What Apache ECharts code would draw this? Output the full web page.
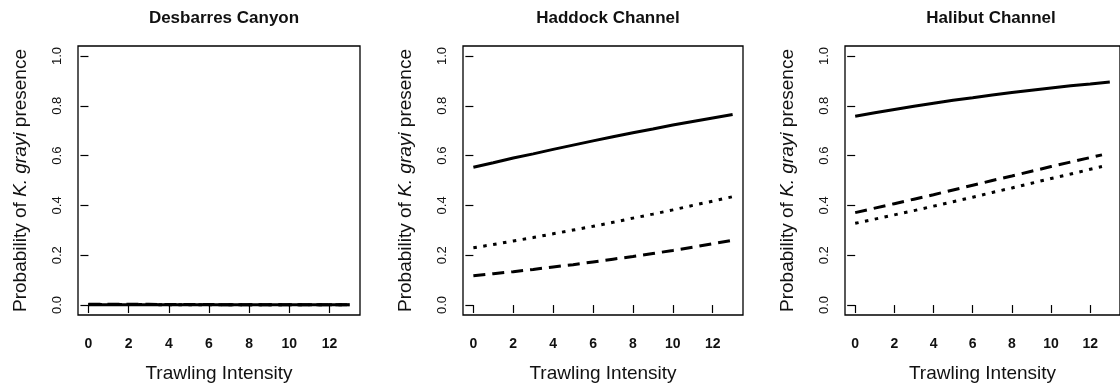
<!DOCTYPE html>
<html>
<head>
<meta charset="utf-8">
<script src="https://cdn.jsdelivr.net/npm/echarts@6/dist/echarts.min.js"></script>
<style>
  html, body { margin: 0; padding: 0; background: #fff; }
  #chart { width: 1120px; height: 389px; }
</style>
</head>
<body>
<div id="chart"></div>
<script>
// Panel titles
const panelTitles = ['Desbarres Canyon', 'Haddock Channel', 'Halibut Channel'];

// Tick labels shared by every panel
const xTicks = [0, 2, 4, 6, 8, 10, 12];
const yTicks = [0, 0.2, 0.4, 0.6, 0.8, 1.0];

// Trawling intensity values at which the fitted curves are drawn
const xFull = [0, 1, 2, 3, 4, 5, 6, 7, 8, 9, 10, 11, 12, 13];
const xShort = [0, 1, 2, 3, 4, 5, 6, 7, 8, 9, 10, 11, 12, 12.6];

// Desbarres Canyon: predicted probability of presence
const desSolid  = [0.001, 0.001, 0.001, 0.001, 0.001, 0.001, 0.001, 0.001, 0.001, 0.001, 0.001, 0.001, 0.001, 0.001];
const desDotted = [0.002, 0.002, 0.002, 0.002, 0.001, 0.001, 0.001, 0.001, 0.001, 0.001, 0.001, 0.001, 0.001, 0.001];
const desDashed = [0.003, 0.003, 0.003, 0.003, 0.002, 0.002, 0.002, 0.001, 0.001, 0.001, 0.001, 0.001, 0.001, 0.001];

// Haddock Channel
const hadSolid  = [0.553, 0.571, 0.590, 0.607, 0.625, 0.642, 0.659, 0.676, 0.692, 0.707, 0.723, 0.737, 0.751, 0.765];
const hadDotted = [0.230, 0.243, 0.257, 0.271, 0.286, 0.301, 0.316, 0.332, 0.349, 0.365, 0.382, 0.400, 0.417, 0.435];
const hadDashed = [0.118, 0.126, 0.134, 0.143, 0.153, 0.162, 0.173, 0.184, 0.195, 0.207, 0.219, 0.232, 0.246, 0.260];

// Halibut Channel
const halSolid  = [0.758, 0.772, 0.785, 0.798, 0.810, 0.822, 0.832, 0.843, 0.853, 0.862, 0.871, 0.880, 0.887, 0.895];
const halDotted = [0.328, 0.345, 0.362, 0.379, 0.397, 0.415, 0.433, 0.452, 0.470, 0.489, 0.508, 0.526, 0.545, 0.556];
const halDashed = [0.371, 0.389, 0.407, 0.425, 0.443, 0.462, 0.481, 0.500, 0.518, 0.537, 0.556, 0.574, 0.592, 0.603];

const FONT = '"Liberation Sans", Arial, sans-serif';
const INK = '#111';

const panels = [
  { left: 78,  width: 282, xs: [xFull, xFull, xFull],  solid: desSolid, dotted: desDotted, dashed: desDashed },
  { left: 463, width: 280, xs: [xFull, xFull, xFull],  solid: hadSolid, dotted: hadDotted, dashed: hadDashed },
  { left: 845, width: 282, xs: [xFull, xShort, xShort], solid: halSolid, dotted: halDotted, dashed: halDashed }
];

const pairs = (xs, ys) => xs.map((x, i) => [x, ys[i]]);

const grids = [], xAxes = [], yAxes = [], series = [], titles = [];

panels.forEach((p, i) => {
  grids.push({
    left: p.left, top: 46, width: p.width, height: 269,
    show: true, borderColor: '#000', borderWidth: 1.3, backgroundColor: 'transparent'
  });
  titles.push({
    text: panelTitles[i],
    left: p.left + p.width / 2,
    textAlign: 'center',
    top: 5,
    textStyle: { fontFamily: FONT, fontSize: 17, fontWeight: 'bold', color: INK }
  });
  xAxes.push({
    gridIndex: i, type: 'value', min: -0.52, max: 13.52,
    name: 'Trawling Intensity', nameLocation: 'middle', nameGap: 49,
    nameTextStyle: { fontFamily: FONT, fontSize: 19, color: INK },
    axisLine: { show: false },
    axisTick: { show: true, length: 8, inside: false, customValues: xTicks, lineStyle: { color: '#000', width: 1.2 } },
    axisLabel: { show: true, customValues: xTicks, margin: 22, fontFamily: FONT, fontSize: 14, fontWeight: 'bold', color: INK },
    splitLine: { show: false }
  });
  yAxes.push({
    gridIndex: i, type: 'value', min: -0.04, max: 1.04,
    name: 'Probability of {i|K. grayi} presence', nameLocation: 'middle', nameGap: 48, nameRotate: 90,
    nameTextStyle: {
      fontFamily: FONT, fontSize: 19, color: INK,
      rich: { i: { fontFamily: FONT, fontSize: 19, fontStyle: 'italic', color: INK } }
    },
    axisLine: { show: false },
    axisTick: { show: true, length: 8, inside: false, customValues: yTicks, lineStyle: { color: '#000', width: 1.2 } },
    axisLabel: {
      show: true, customValues: yTicks, rotate: 90, margin: 14,
      fontFamily: FONT, fontSize: 13, color: INK,
      formatter: v => v.toFixed(1)
    },
    splitLine: { show: false }
  });
  const common = { type: 'line', xAxisIndex: i, yAxisIndex: i, showSymbol: false, symbol: 'none', silent: true, animation: false };
  series.push(Object.assign({}, common, {
    name: 'solid' + i, data: pairs(p.xs[0], p.solid),
    lineStyle: { color: '#000', width: 3, type: 'solid' }
  }));
  series.push(Object.assign({}, common, {
    name: 'dotted' + i, data: pairs(p.xs[1], p.dotted),
    lineStyle: { color: '#000', width: 3, type: [3.5, 6.5] }
  }));
  series.push(Object.assign({}, common, {
    name: 'dashed' + i, data: pairs(p.xs[2], p.dashed),
    lineStyle: { color: '#000', width: 3, type: [12, 7] }
  }));
});

const chart = echarts.init(document.getElementById('chart'), null, { renderer: 'canvas' });
chart.setOption({
  backgroundColor: '#fff',
  animation: false,
  title: titles,
  grid: grids,
  xAxis: xAxes,
  yAxis: yAxes,
  series: series
});
</script>
</body>
</html>
